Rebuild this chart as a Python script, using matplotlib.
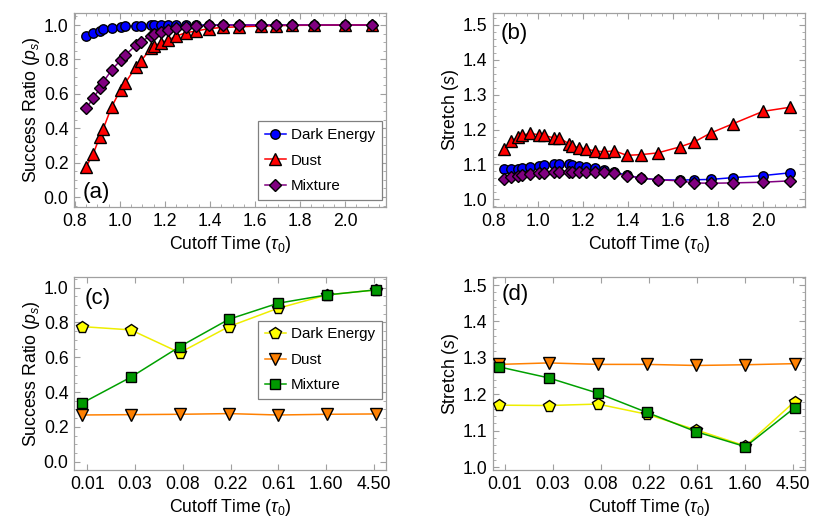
import matplotlib
matplotlib.use('Agg')
import matplotlib.pyplot as plt
from matplotlib.ticker import MultipleLocator

plt.rcParams['font.family'] = ['Liberation Sans', 'DejaVu Sans']
plt.rcParams['mathtext.fontset'] = 'custom'
plt.rcParams['mathtext.rm'] = 'Liberation Sans'
plt.rcParams['mathtext.it'] = 'Liberation Sans:italic'

# panels (a), (b): cutoff time in units of tau_0
cutoff = [0.849, 0.881, 0.910, 0.926, 0.963, 1.003, 1.024, 1.071, 1.094, 1.137, 1.152,
          1.181, 1.214, 1.251, 1.292, 1.338, 1.394, 1.456, 1.531, 1.628, 1.692, 1.766,
          1.863, 1.998, 2.120]

ps_dark = [0.935, 0.953, 0.967, 0.975, 0.983, 0.990, 0.992, 0.995, 0.996, 0.998, 0.998,
           0.999, 1.0, 1.0, 1.0, 1.0, 1.0, 1.0, 1.0, 1.0, 1.0, 1.0, 1.0, 1.0, 1.0]
ps_dust = [0.175, 0.249, 0.350, 0.398, 0.524, 0.625, 0.664, 0.757, 0.792, 0.864, 0.878,
           0.897, 0.913, 0.936, 0.955, 0.965, 0.979, 0.986, 0.990, 0.994, 0.996, 0.998,
           0.999, 1.0, 1.0]
ps_mix = [0.515, 0.573, 0.631, 0.670, 0.738, 0.796, 0.825, 0.883, 0.903, 0.938, 0.948,
          0.961, 0.971, 0.982, 0.990, 0.996, 0.998, 1.0, 1.0, 1.0, 1.0, 1.0, 1.0, 1.0, 1.0]

s_dark = [1.086, 1.086, 1.087, 1.089, 1.092, 1.096, 1.098, 1.101, 1.101, 1.101, 1.099,
          1.096, 1.094, 1.090, 1.084, 1.078, 1.069, 1.061, 1.056, 1.055, 1.056, 1.057,
          1.062, 1.068, 1.076]
s_dust = [1.143, 1.166, 1.178, 1.183, 1.189, 1.185, 1.183, 1.176, 1.176, 1.159, 1.154,
          1.147, 1.144, 1.139, 1.136, 1.139, 1.126, 1.128, 1.133, 1.150, 1.164, 1.190,
          1.216, 1.252, 1.264]
s_mix = [1.058, 1.063, 1.068, 1.070, 1.073, 1.074, 1.075, 1.077, 1.077, 1.079, 1.079,
         1.079, 1.079, 1.078, 1.077, 1.074, 1.068, 1.061, 1.056, 1.053, 1.047, 1.046,
         1.047, 1.049, 1.053]

# panels (c), (d): seven cutoff times, equally spaced on the plot
tick_labels = ['0.01', '0.03', '0.08', '0.22', '0.61', '1.60', '4.50']
idx = [0, 1, 2, 3, 4, 5, 6]
tick_pos = [0.11, 1.085, 2.06, 3.035, 4.01, 4.985, 5.96]

ps2_dark = [0.776, 0.757, 0.626, 0.776, 0.881, 0.958, 0.987]
ps2_dust = [0.268, 0.270, 0.272, 0.276, 0.268, 0.272, 0.274]
ps2_mix = [0.335, 0.485, 0.661, 0.818, 0.910, 0.958, 0.987]

s2_dark = [1.170, 1.169, 1.173, 1.145, 1.102, 1.058, 1.180]
s2_dust = [1.282, 1.286, 1.282, 1.282, 1.279, 1.281, 1.284]
s2_mix = [1.275, 1.245, 1.203, 1.150, 1.097, 1.056, 1.163]

frame_col = '#a0a0a0'
fs = 12.7

fig = plt.figure(figsize=(8.3, 5.26), dpi=100)
ax_a = fig.add_axes([0.0892, 0.6065, 0.3759, 0.3688])
ax_b = fig.add_axes([0.5936, 0.6065, 0.3763, 0.3688])
ax_c = fig.add_axes([0.0892, 0.1065, 0.3759, 0.3669])
ax_d = fig.add_axes([0.5936, 0.1065, 0.3763, 0.3669])


def style(ax):
    for sp in ax.spines.values():
        sp.set_color(frame_col)
        sp.set_linewidth(0.9)
    ax.tick_params(which='both', direction='in', colors=frame_col, labelcolor='black',
                   labelsize=fs, top=True, right=True, pad=4)
    ax.tick_params(which='major', length=4, width=0.8)
    ax.tick_params(which='minor', length=2, width=0.6)


mk = dict(markeredgecolor='black', markeredgewidth=1.0, linewidth=1.1)

# (a)
ax_a.plot(cutoff, ps_dark, '-o', color='#0000ff', ms=6.8, label='Dark Energy', zorder=3, **mk)
ax_a.plot(cutoff, ps_dust, '-^', color='#ff0000', ms=8, label='Dust', zorder=3, **mk)
ax_a.plot(cutoff, ps_mix, '-D', color='#800080', ms=5.8, label='Mixture', zorder=3, **mk)
ax_a.set_xlim(0.796, 2.182)
ax_a.set_ylim(-0.058, 1.07)
ax_a.xaxis.set_major_locator(MultipleLocator(0.2))
ax_a.xaxis.set_minor_locator(MultipleLocator(0.05))
ax_a.yaxis.set_major_locator(MultipleLocator(0.2))
ax_a.yaxis.set_minor_locator(MultipleLocator(0.05))
ax_a.xaxis.set_major_formatter(lambda v, p: f'{v:.1f}')
ax_a.yaxis.set_major_formatter(lambda v, p: f'{v:.1f}')
ax_a.set_ylabel('Success Ratio ($p_s$)', fontsize=fs, labelpad=1)
ax_a.set_xlabel('Cutoff Time ($\\tau_0$)', fontsize=fs, labelpad=3)
ax_a.text(0.026, 0.077, '(a)', transform=ax_a.transAxes, fontsize=16, va='center')
style(ax_a)

# (b)
ax_b.plot(cutoff, s_dust, '-^', color='#ff0000', ms=8, zorder=3, **mk)
ax_b.plot(cutoff, s_dark, '-o', color='#0000ff', ms=6.8, zorder=3, **mk)
ax_b.plot(cutoff, s_mix, '-D', color='#800080', ms=5.8, zorder=3, **mk)
ax_b.set_xlim(0.798, 2.185)
ax_b.set_ylim(0.978, 1.534)
ax_b.xaxis.set_major_locator(MultipleLocator(0.2))
ax_b.xaxis.set_minor_locator(MultipleLocator(0.05))
ax_b.yaxis.set_major_locator(MultipleLocator(0.1))
ax_b.yaxis.set_minor_locator(MultipleLocator(0.02))
ax_b.xaxis.set_major_formatter(lambda v, p: f'{v:.1f}')
ax_b.yaxis.set_major_formatter(lambda v, p: f'{v:.1f}')
ax_b.set_ylabel('Stretch ($s$)', fontsize=fs, labelpad=1)
ax_b.set_xlabel('Cutoff Time ($\\tau_0$)', fontsize=fs, labelpad=3)
ax_b.text(0.026, 0.895, '(b)', transform=ax_b.transAxes, fontsize=16, va='center')
style(ax_b)

# (c)
ax_c.plot(idx, ps2_dark, '-p', color='#eeee00', mfc='#ffff00', ms=8.5, label='Dark Energy', zorder=3, **mk)
ax_c.plot(idx, ps2_dust, '-v', color='#ff8000', ms=8, label='Dust', zorder=3, **mk)
ax_c.plot(idx, ps2_mix, '-s', color='#00a000', mfc='#009900', ms=7.3, label='Mixture', zorder=3, **mk)
ax_c.set_xlim(-0.157, 6.205)
ax_c.set_ylim(-0.048, 1.061)
ax_c.set_xticks(tick_pos)
ax_c.set_xticklabels(tick_labels)
ax_c.yaxis.set_major_locator(MultipleLocator(0.2))
ax_c.yaxis.set_minor_locator(MultipleLocator(0.05))
ax_c.yaxis.set_major_formatter(lambda v, p: f'{v:.1f}')
ax_c.set_ylabel('Success Ratio ($p_s$)', fontsize=fs, labelpad=1)
ax_c.set_xlabel('Cutoff Time ($\\tau_0$)', fontsize=fs, labelpad=3)
ax_c.text(0.033, 0.89, '(c)', transform=ax_c.transAxes, fontsize=16, va='center')
style(ax_c)

# (d)
ax_d.plot(idx, s2_dust, '-v', color='#ff8000', ms=8, zorder=3, **mk)
ax_d.plot(idx, s2_dark, '-p', color='#eeee00', mfc='#ffff00', ms=8.5, zorder=3, **mk)
ax_d.plot(idx, s2_mix, '-s', color='#00a000', mfc='#009900', ms=7.3, zorder=3, **mk)
ax_d.set_xlim(-0.135, 6.21)
ax_d.set_ylim(0.992, 1.522)
ax_d.set_xticks(tick_pos)
ax_d.set_xticklabels(tick_labels)
ax_d.yaxis.set_major_locator(MultipleLocator(0.1))
ax_d.yaxis.set_minor_locator(MultipleLocator(0.02))
ax_d.yaxis.set_major_formatter(lambda v, p: f'{v:.1f}')
ax_d.set_ylabel('Stretch ($s$)', fontsize=fs, labelpad=1)
ax_d.set_xlabel('Cutoff Time ($\\tau_0$)', fontsize=fs, labelpad=3)
ax_d.text(0.03, 0.907, '(d)', transform=ax_d.transAxes, fontsize=16, va='center')
style(ax_d)

for ax, loc, anchor in [(ax_a, 'lower right', (0.987, 0.036)), (ax_c, 'upper right', (0.987, 0.774))]:
    leg = ax.legend(loc=loc, bbox_to_anchor=anchor, borderaxespad=0, fontsize=10.9,
                    fancybox=False, framealpha=1, edgecolor='#808080',
                    handlelength=1.4, labelspacing=0.76, borderpad=0.45, handletextpad=0.35)
    leg.get_frame().set_linewidth(0.9)

fig.savefig('out.png', dpi=100)
